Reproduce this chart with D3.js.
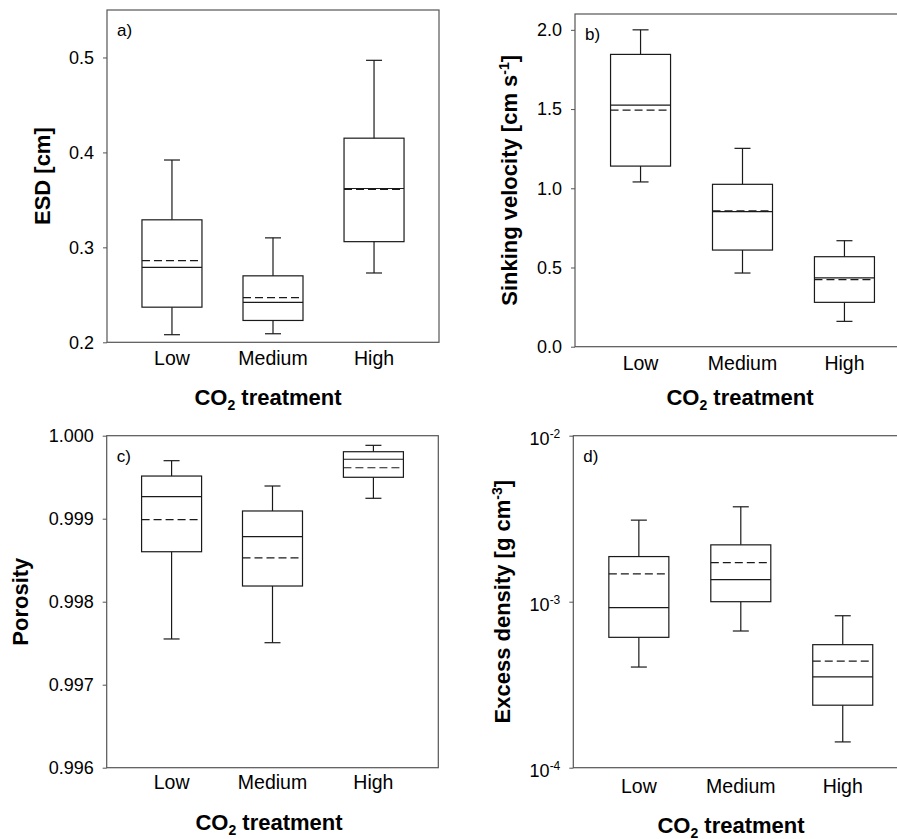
<!DOCTYPE html>
<html>
<head>
<meta charset="utf-8">
<script src="https://cdn.jsdelivr.net/npm/d3@7"></script>
<style>
  body { margin: 0; background: #fff; }
  text { font-family: Arial, "Liberation Sans", sans-serif; fill: #000; }
</style>
</head>
<body>
<svg id="chart" width="897" height="839"></svg>
<script>
// Categories on every x axis
const categories = ["Low", "Medium", "High"];

// Box statistics per category: [lower whisker, Q1, median, mean, Q3, upper whisker]
const esdStats = [
    [0.208, 0.237, 0.279, 0.286, 0.329, 0.392],
    [0.209, 0.223, 0.242, 0.247, 0.270, 0.310],
    [0.273, 0.306, 0.362, 0.361, 0.415, 0.497]
];
const sinkingStats = [
    [1.04, 1.14, 1.525, 1.493, 1.845, 2.0],
    [0.465, 0.61, 0.852, 0.858, 1.025, 1.252],
    [0.16, 0.28, 0.435, 0.423, 0.568, 0.669]
];
const porosityStats = [
    [0.997551, 0.998602, 0.999265, 0.998988, 0.999514, 0.999699],
    [0.997506, 0.998189, 0.998783, 0.998527, 0.999093, 0.999394],
    [0.999246, 0.999499, 0.999716, 0.999614, 0.999807, 0.999884]
];
const densityStats = [
    [4.04e-4, 6.1e-4, 9.2e-4, 1.47e-3, 1.87e-3, 3.10e-3],
    [6.66e-4, 1.0e-3, 1.36e-3, 1.72e-3, 2.20e-3, 3.73e-3],
    [1.43e-4, 2.38e-4, 3.52e-4, 4.38e-4, 5.51e-4, 8.23e-4]
];

// Tick values
const esdTicks = [0.2, 0.3, 0.4, 0.5];
const sinkingTicks = [0.0, 0.5, 1.0, 1.5, 2.0];
const porosityTicks = [0.996, 0.997, 0.998, 0.999, 1.000];
const densityTicks = [1e-4, 1e-3, 1e-2];

const svg = d3.select("#chart");

const panels = [
    { label: "a)", stats: esdStats, ticks: esdTicks, domain: [0.2, 0.55], log: false, fmt: d3.format(".1f"),
      left: 107, right: 439, top: 10, bottom: 342.3, title: ["ESD [cm]"], titleX: 50, catY: 365, xTitleY: 404.5, xTitleX: 268 },
    { label: "b)", stats: sinkingStats, ticks: sinkingTicks, domain: [0, 2.1], log: false, fmt: d3.format(".1f"),
      left: 575, right: 910, top: 14, bottom: 346.7, title: ["Sinking velocity [cm s", "-1", "]"], titleX: 517, catY: 370, xTitleY: 405, xTitleX: 740 },
    { label: "c)", stats: porosityStats, ticks: porosityTicks, domain: [0.996, 1.0], log: false, fmt: d3.format(".3f"),
      left: 106.7, right: 438.3, top: 435.7, bottom: 767.7, title: ["Porosity"], titleX: 28, catY: 789, xTitleY: 830, xTitleX: 269 },
    { label: "d)", stats: densityStats, ticks: densityTicks, domain: [1e-4, 1e-2], log: true, fmt: null,
      left: 573.3, right: 908.3, top: 435.7, bottom: 767.7, title: ["Excess density [g cm", "-3", "]"], titleX: 510, catY: 793, xTitleY: 832.5, xTitleX: 731 }
];

const boxColor = "#1a1a1a";
const frameColor = "#555";

panels.forEach(p => drawPanel(p));

function drawPanel(p) {
    const y = (p.log ? d3.scaleLog() : d3.scaleLinear()).domain(p.domain).range([p.bottom, p.top]);
    const x = d3.scalePoint().domain(categories).range([p.left, p.right]).padding(0.643);
    const g = svg.append("g");

    // frame
    g.append("rect")
        .attr("x", p.left).attr("y", p.top)
        .attr("width", p.right - p.left).attr("height", p.bottom - p.top)
        .attr("fill", "none").attr("stroke", frameColor).attr("stroke-width", 1.2);

    // y axis
    const axis = d3.axisLeft(y).tickValues(p.ticks).tickSizeInner(4).tickSizeOuter(0).tickPadding(9)
        .tickFormat(p.log ? () => "" : p.fmt);
    const ag = g.append("g").attr("transform", `translate(${p.left},0)`).call(axis);
    ag.select(".domain").remove();
    ag.selectAll(".tick line").attr("stroke", frameColor);
    ag.selectAll(".tick text").attr("font-size", 18).attr("font-family", null).attr("fill", "#000");
    if (p.log) {
        ag.selectAll(".tick text").each(function (d) {
            const t = d3.select(this);
            t.append("tspan").text("10");
            t.append("tspan").attr("dy", -7).attr("font-size", 12).text(Math.round(Math.log10(d)));
        }).attr("dy", "0.5em");
    }

    // category labels
    g.selectAll(".cat").data(categories).join("text")
        .attr("x", d => x(d)).attr("y", p.catY)
        .attr("text-anchor", "middle").attr("font-size", 19.5)
        .text(d => d);

    // x title
    const xt = g.append("text")
        .attr("x", p.xTitleX).attr("y", p.xTitleY)
        .attr("text-anchor", "middle").attr("font-size", 22).attr("font-weight", "bold");
    xt.append("tspan").text("CO");
    xt.append("tspan").attr("font-size", 14).attr("dy", 5).text("2");
    xt.append("tspan").attr("dy", -5).text(" treatment");

    // y title
    const yt = g.append("text")
        .attr("transform", `translate(${p.titleX},${(p.top + p.bottom) / 2}) rotate(-90)`)
        .attr("text-anchor", "middle").attr("font-size", 22).attr("font-weight", "bold");
    yt.append("tspan").text(p.title[0]);
    if (p.title.length > 1) {
        yt.append("tspan").attr("font-size", 14).attr("dy", -8).text(p.title[1]);
        yt.append("tspan").attr("dy", 8).text(p.title[2]);
    }

    // panel label
    g.append("text").attr("x", p.left + 10).attr("y", p.top + 26)
        .attr("font-size", 17).text(p.label);

    // boxes
    const half = 30, cap = 8;
    const boxes = g.selectAll(".box").data(p.stats).join("g");
    boxes.each(function (s, i) {
        const b = d3.select(this);
        const cx = x(categories[i]);
        const [lo, q1, med, mean, q3, hi] = s;
        const line = (x1, y1, x2, y2) => b.append("line")
            .attr("x1", x1).attr("y1", y1).attr("x2", x2).attr("y2", y2)
            .attr("stroke", boxColor).attr("stroke-width", 1.2);
        line(cx, y(hi), cx, y(q3));
        line(cx - cap, y(hi), cx + cap, y(hi));
        line(cx, y(q1), cx, y(lo));
        line(cx - cap, y(lo), cx + cap, y(lo));
        b.append("rect")
            .attr("x", cx - half).attr("y", y(q3))
            .attr("width", 2 * half).attr("height", y(q1) - y(q3))
            .attr("fill", "none").attr("stroke", boxColor).attr("stroke-width", 1.2);
        line(cx - half, y(med), cx + half, y(med));
        line(cx - half, y(mean), cx + half, y(mean)).attr("stroke-dasharray", "8,4");
    });
}
</script>
</body>
</html>
